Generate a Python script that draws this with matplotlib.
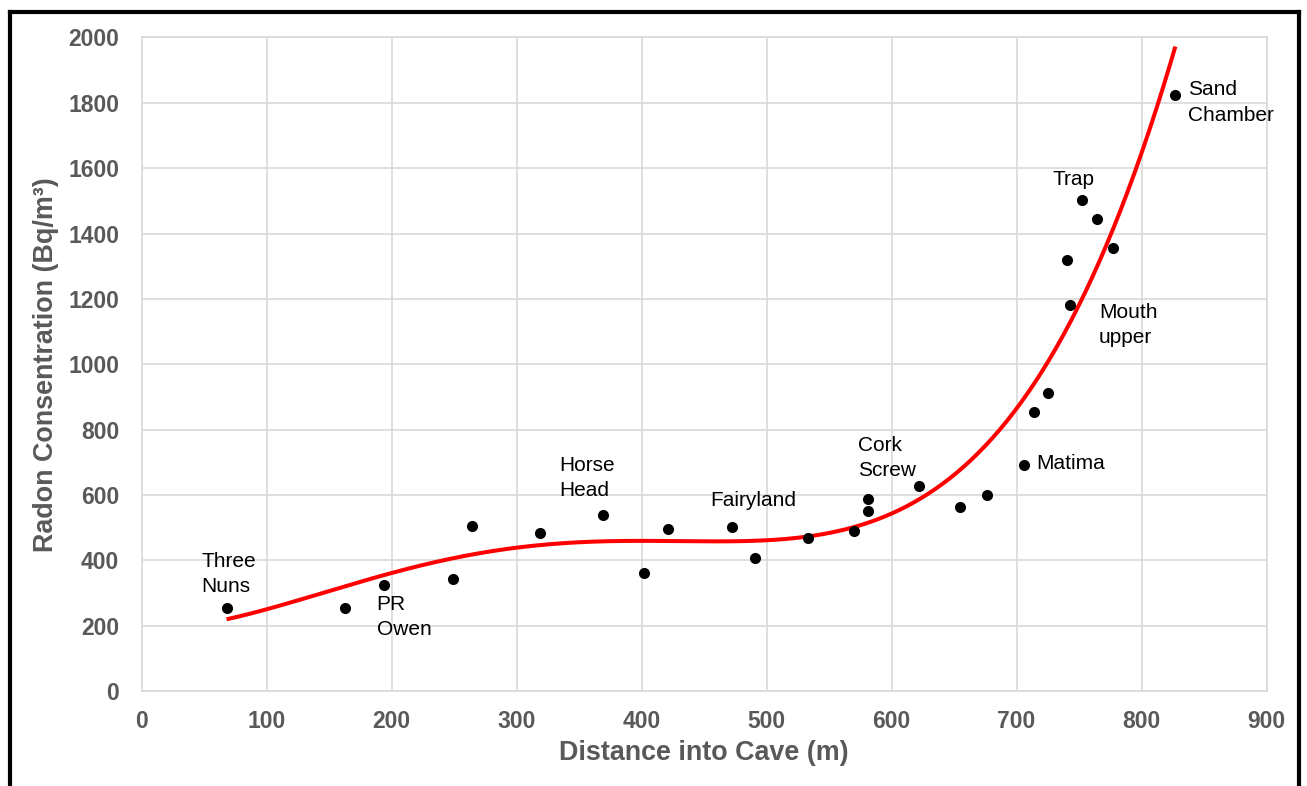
import matplotlib

matplotlib.use("Agg")
import matplotlib.pyplot as plt
import numpy as np
from matplotlib.lines import Line2D

# survey points
distance = [68, 163, 194, 249, 264, 319, 369, 402, 421, 472, 491, 533, 570, 581, 581,
            622, 655, 676, 706, 714, 725, 740, 743, 752, 764, 777, 827]
radon = [255, 255, 324, 344, 505, 483, 539, 361, 497, 501, 407, 469, 490, 552, 588,
         626, 563, 599, 692, 854, 911, 1319, 1180, 1502, 1445, 1356, 1823]

# station names and where their text sits (x, top of text)
site_names = ["Three\nNuns", "PR\nOwen", "Horse\nHead", "Fairyland", "Cork\nScrew",
              "Matima", "Trap", "Mouth\nupper", "Sand\nChamber"]
site_x = [48, 188, 334, 455, 573, 716, 729, 766, 837]
site_y = [426, 295, 720, 613, 781, 726, 1595, 1188, 1869]

x_ticks = list(range(0, 901, 100))
y_ticks = list(range(0, 2001, 200))

font = "Liberation Sans"
grey = "#595959"

fig = plt.figure(figsize=(13.07, 7.86), dpi=100)
ax = fig.add_axes([0.1083, 0.1209, 0.8608, 0.8314])

ax.scatter(distance, radon, s=64, color="black", zorder=3, linewidths=0)

# 4th order polynomial trendline over the data range
coef = np.polyfit(distance, radon, 4)
xs = np.linspace(min(distance), max(distance), 400)
ax.plot(xs, np.polyval(coef, xs), color="#ff0000", lw=2.9, zorder=2,
        solid_capstyle="butt")

for name, x, y in zip(site_names, site_x, site_y):
    ax.text(x, y, name, fontsize=15, family=font, color="black",
            ha="left", va="top", linespacing=1.42)

ax.set_xlim(0, 900)
ax.set_ylim(0, 2000)
ax.set_xticks(x_ticks)
ax.set_yticks(y_ticks)
ax.tick_params(length=0, labelsize=16.5, labelcolor=grey)
ax.tick_params(axis="x", pad=14)
ax.tick_params(axis="y", pad=16)
for lab in ax.get_xticklabels() + ax.get_yticklabels():
    lab.set_fontfamily(font)
    lab.set_fontweight("bold")
ax.grid(color="#d9d9d9", lw=1.2)
ax.set_axisbelow(True)
for spine in ax.spines.values():
    spine.set_color("#d9d9d9")
    spine.set_linewidth(1.2)

ax.set_xlabel("Distance into Cave (m)", fontsize=19.4, fontweight="bold",
              family=font, color=grey)
ax.set_ylabel("Radon Consentration (Bq/m³)", fontsize=19.4, fontweight="bold",
              family=font, color=grey)
ax.xaxis.set_label_coords(0.5, -0.095)
ax.yaxis.set_label_coords(-0.0845, 0.5)
ax.xaxis.label.set_va("center")
ax.yaxis.label.set_va("center")

# black frame round the figure (open at the bottom, as in the source)
w, h = 1307, 786
frame = dict(color="black", lw=3, transform=fig.transFigure)
fig.add_artist(Line2D([10 / w, 10 / w], [0, 1 - 12 / h], **frame))
fig.add_artist(Line2D([1299 / w, 1299 / w], [0, 1 - 12 / h], **frame))
fig.add_artist(Line2D([10 / w, 1299 / w], [1 - 12 / h, 1 - 12 / h], **frame))

fig.savefig("out.png")
